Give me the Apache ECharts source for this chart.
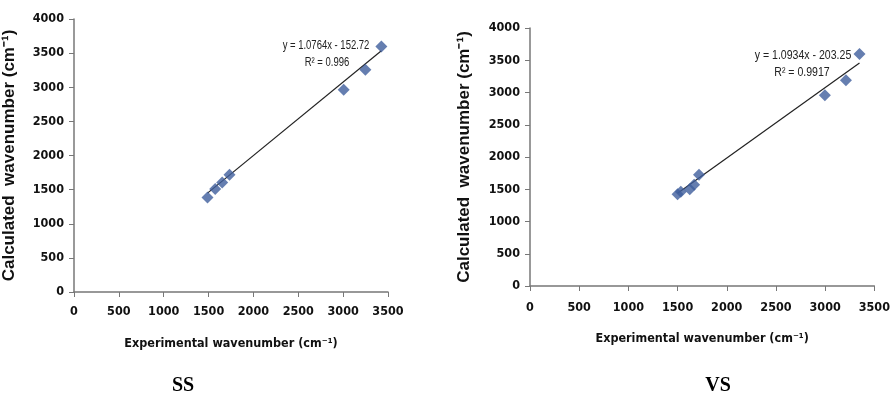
<!DOCTYPE html>
<html><head><meta charset="utf-8">
<script src="https://cdn.jsdelivr.net/npm/echarts@6/dist/echarts.min.js"></script>
<style>html,body{margin:0;padding:0;background:#fff}#c{width:893px;height:403px}</style>
</head><body><div id="c"></div>
<script>
// SS data
const ssExp = [1488, 1574, 1652, 1733, 3006, 3248, 3426];
const ssCalc = [1385, 1508, 1605, 1717, 2962, 3255, 3596];
const ssFit = [1.0764, -152.72];
const ssEq = ['y = 1.0764x - 152.72', 'R² = 0.996'];
// VS data
const vsExp = [1500, 1533, 1624, 1668, 1718, 2997, 3211, 3349];
const vsCalc = [1424, 1460, 1501, 1568, 1724, 2956, 3188, 3598];
const vsFit = [1.0934, -203.25];
const vsEq = ['y = 1.0934x - 203.25', 'R² = 0.9917'];
const panelLabels = ['SS', 'VS'];
const xName = 'Experimental wavenumber (cm⁻¹)';
const yName = 'Calculated  wavenumber (cm⁻¹)';

function pairs(xs, ys){ return xs.map((x,i)=>[x, ys[i]]); }
function fitLine(xs, fit){
  const a = Math.min(...xs), b = Math.max(...xs);
  return [[a, fit[0]*a+fit[1]], [b, fit[0]*b+fit[1]]];
}
const font = 'Liberation Sans, Arial, sans-serif';
const narrow = '"Liberation Sans Narrow", "DejaVu Sans Condensed", sans-serif';
const markerColor = '#3f5e9c';
function xAx(grid, gap, margin){
  return {gridIndex: grid, type:'value', min:0, max:3500, interval:500,
    name: xName, nameLocation:'middle', nameGap: gap,
    nameTextStyle:{fontFamily:narrow, fontWeight:'bold', fontSize:12.5, color:'#111'},
    axisLine:{lineStyle:{color:'#777', width:1.5}}, axisTick:{show:true, length:5, lineStyle:{color:'#777'}},
    axisLabel:{fontFamily:narrow, fontWeight:'bold', fontSize:12.5, color:'#111', margin: margin, formatter: v => String(v)},
    splitLine:{show:false}};
}
function yAx(grid, gap){
  return {gridIndex: grid, type:'value', min:0, max:4000, interval:500,
    name: yName, nameLocation:'middle', nameGap: gap, nameRotate:90,
    nameTextStyle:{fontFamily:font, fontWeight:'bold', fontSize:17, color:'#111'},
    axisLine:{show:true, lineStyle:{color:'#777', width:1.5}}, axisTick:{show:true, length:5, lineStyle:{color:'#777'}},
    axisLabel:{fontFamily:narrow, fontWeight:'bold', fontSize:12.5, color:'#111', margin:10, formatter: v => String(v)},
    splitLine:{show:false}};
}
function eqText(text, x, y, sx){
  return {type:'text', x:x, y:y, scaleX:sx, style:{text:text, x:0, y:0, align:'center', verticalAlign:'middle', font:'12px '+font, fill:'#222'}};
}
const chart = echarts.init(document.getElementById('c'));
chart.setOption({
  animation:false,
  backgroundColor:'#fff',
  grid:[
    {left:74, top:19, width:314, height:273},
    {left:530, top:28, width:348, height:258}
  ],
  xAxis:[xAx(0, 45, 13), xAx(1, 46, 15)],
  yAxis:[yAx(0, 56), yAx(1, 57)],
  series:[
    {type:'line', xAxisIndex:0, yAxisIndex:0, data: fitLine(ssExp, ssFit), symbol:'none', lineStyle:{color:'#222', width:1.2}, z:1},
    {type:'scatter', xAxisIndex:0, yAxisIndex:0, data: pairs(ssExp, ssCalc), symbol:'diamond', symbolSize:12, itemStyle:{color:markerColor}, z:2},
    {type:'line', xAxisIndex:1, yAxisIndex:1, data: fitLine(vsExp, vsFit), symbol:'none', lineStyle:{color:'#222', width:1.2}, z:1},
    {type:'scatter', xAxisIndex:1, yAxisIndex:1, data: pairs(vsExp, vsCalc), symbol:'diamond', symbolSize:12, itemStyle:{color:markerColor}, z:2}
  ],
  graphic:[
    eqText(ssEq[0], 326, 46, 0.79),
    eqText(ssEq[1], 327, 63, 0.79),
    eqText(vsEq[0], 803, 56, 0.88),
    eqText(vsEq[1], 802, 73, 0.88),
    {type:'text', style:{text:panelLabels[0], x:183, y:386, align:'center', verticalAlign:'middle', font:'bold 20px Liberation Serif, Times New Roman, serif', fill:'#000'}},
    {type:'text', style:{text:panelLabels[1], x:718, y:386, align:'center', verticalAlign:'middle', font:'bold 20px Liberation Serif, Times New Roman, serif', fill:'#000'}}
  ]
});
</script></body></html>
